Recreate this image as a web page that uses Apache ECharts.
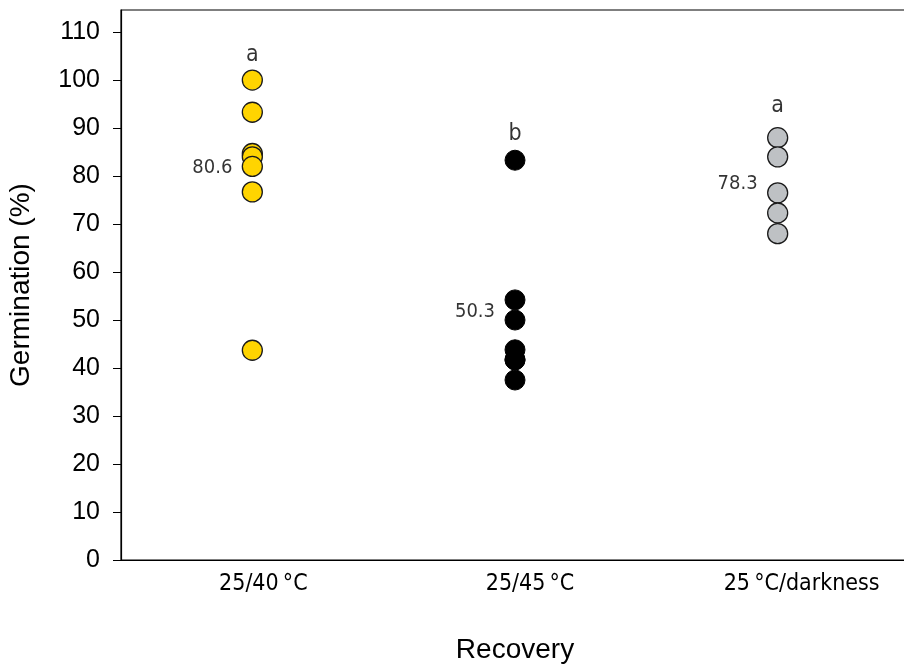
<!DOCTYPE html>
<html>
<head>
<meta charset="utf-8">
<script src="https://cdn.jsdelivr.net/npm/echarts@6/dist/echarts.min.js"></script>
<style>html,body{margin:0;padding:0;background:#fff}#c{width:904px;height:667px}</style>
</head>
<body>
<div id="c"></div>
<script>
const categories = ['25/40\u2009°C', '25/45\u2009°C', '25\u2009°C/darkness'];
const group1 = [100, 93.3, 84.7, 84.0, 82.0, 76.7, 43.7];
const group2 = [83.3, 54.2, 50.0, 43.8, 41.7, 41.7, 37.5];
const group3 = [88.0, 84.0, 76.5, 72.3, 68.0];
const meanLabels = ['80.6', '50.3', '78.3'];
const meanLabelY = [81.8, 51.7, 78.3];
const letters = ['a', 'b', 'a'];
const letterY = [105.2, 88.8, 94.6];
const yTicks = [0, 10, 20, 30, 40, 50, 60, 70, 80, 90, 100, 110];

const txtFont = "'DejaVu Sans Condensed', 'DejaVu Sans', sans-serif";
const arial = "'Liberation Sans', Arial, sans-serif";
const pts = (arr, ci) => arr.map(v => [categories[ci], v]);
// the original labels sit slightly right of their ticks
const labelPadLeft = [22, 30, 48];
const xData = categories.map((c, i) => ({ value: c, textStyle: { padding: [0, 0, 0, labelPadLeft[i]] } }));

const chart = echarts.init(document.getElementById('c'));
chart.setOption({
  animation: false,
  grid: { left: 121, width: 788, top: 10, bottom: 107, outerBoundsMode: 'none', containLabel: false,
          show: true, borderColor: '#000', borderWidth: 1.2 },
  xAxis: {
    type: 'category', data: xData, boundaryGap: true,
    name: 'Recovery', nameLocation: 'middle', nameGap: 76,
    nameTextStyle: { fontFamily: arial, fontSize: 28, color: '#000' },
    axisLine: { lineStyle: { color: '#000', width: 1.2 } },
    axisTick: { alignWithLabel: true, length: 8, lineStyle: { color: '#000' } },
    axisLabel: { fontFamily: txtFont, fontSize: 23, color: '#000', margin: 13 },
    splitLine: { show: false }
  },
  yAxis: {
    type: 'value', min: 0, max: 114.6,
    name: 'Germination (%)', nameLocation: 'middle', nameGap: 86,
    nameTextStyle: { fontFamily: arial, fontSize: 28, color: '#000' },
    axisLine: { show: true, lineStyle: { color: '#000', width: 1.2 } },
    axisTick: { show: true, length: 8, customValues: yTicks, lineStyle: { color: '#000' } },
    axisLabel: { customValues: yTicks, fontFamily: arial, fontSize: 25, color: '#000', margin: 21 },
    splitLine: { show: false }
  },
  series: [
    { type: 'scatter', data: pts(group1, 0), symbolSize: 20,
      itemStyle: { color: '#FFD400', borderColor: '#1a1a1a', borderWidth: 1.3, opacity: 1 } },
    { type: 'scatter', data: pts(group2, 1), symbolSize: 20,
      itemStyle: { color: '#000', borderColor: '#000', borderWidth: 1, opacity: 1 } },
    { type: 'scatter', data: pts(group3, 2), symbolSize: 20,
      itemStyle: { color: '#BEC1C4', borderColor: '#1a1a1a', borderWidth: 1.3, opacity: 1 } },
    { type: 'scatter', symbolSize: 0, silent: true,
      data: meanLabelY.map((v, i) => ({ value: [categories[i], v], label: { formatter: meanLabels[i] } })),
      label: { show: true, position: 'left', distance: 20, fontFamily: txtFont, fontSize: 20, color: '#000' } },
    { type: 'scatter', symbolSize: 0, silent: true,
      data: letterY.map((v, i) => ({ value: [categories[i], v], label: { formatter: letters[i] } })),
      label: { show: true, position: 'inside', fontFamily: txtFont, fontSize: 23, color: '#000' } }
  ]
});
</script>
</body>
</html>
